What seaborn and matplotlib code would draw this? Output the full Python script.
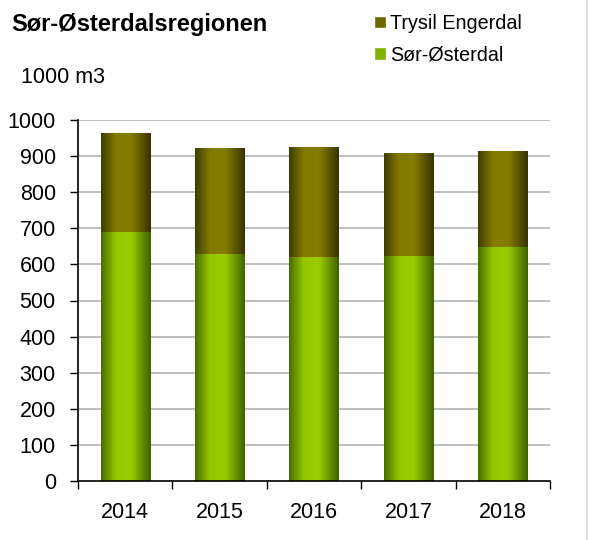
import numpy as np
import pandas as pd
import matplotlib
matplotlib.use("Agg")
import matplotlib.pyplot as plt
from matplotlib.colors import LinearSegmentedColormap
from matplotlib.patches import Patch
import seaborn as sns

# Data
years = ["2014", "2015", "2016", "2017", "2018"]
sor_osterdal = [690, 629, 620, 623, 648]
trysil_engerdal = [274, 293, 305, 286, 266]
series_names = ["Trysil Engerdal", "Sør-Østerdal"]
yticks = list(range(0, 1001, 100))

df = pd.DataFrame({"year": years, "sor": sor_osterdal, "trysil": trysil_engerdal})
df["total"] = df["sor"] + df["trysil"]

sns.set_theme(style="white")
plt.rcParams["font.family"] = ["Liberation Sans", "DejaVu Sans"]
plt.rcParams["text.color"] = "black"
plt.rcParams["xtick.color"] = "black"
plt.rcParams["ytick.color"] = "black"
plt.rcParams["xtick.labelcolor"] = "black"
plt.rcParams["ytick.labelcolor"] = "black"

fig = plt.figure(figsize=(5.89, 5.40), dpi=100)
ax = fig.add_axes([78 / 589, 1 - 481 / 540, (550 - 78) / 589, (481 - 120) / 540])

# gradient colormaps (dark edges, light middle)
cmap_top = LinearSegmentedColormap.from_list(
    "top", [(0, "#3d3d00"), (0.3, "#827a00"), (0.6, "#857d00"), (1, "#363300")])
cmap_bot = LinearSegmentedColormap.from_list(
    "bot", [(0, "#4a6c00"), (0.3, "#96c800"), (0.6, "#9acd00"), (1, "#426000")])

# bars: total first, then Sør-Østerdal on top
sns.barplot(data=df, x="year", y="total", color="#6b6600", width=0.52,
            saturation=1, ax=ax, zorder=2)
sns.barplot(data=df, x="year", y="sor", color="#80b000", width=0.52,
            saturation=1, ax=ax, zorder=3)

grad = np.linspace(0, 1, 256).reshape(1, -1)
n = len(years)
for i, p in enumerate(ax.patches):
    cmap = cmap_top if i < n else cmap_bot
    x0, y0 = p.get_x(), p.get_y()
    w, h = p.get_width(), p.get_height()
    img = ax.imshow(grad, cmap=cmap, aspect="auto", extent=[x0, x0 + w, y0, y0 + h],
                    zorder=2 if i < n else 3, interpolation="bicubic")
    img.set_clip_path(p)
    p.set_facecolor("none")
    p.set_edgecolor("none")

ax.set_xlim(-0.5, n - 0.5)
ax.set_ylim(0, 1000)
ax.set_yticks(yticks)
ax.set_yticklabels([str(v) for v in yticks])
ax.set_xlabel("")
ax.set_ylabel("")

# gridlines
for v in yticks[1:]:
    ax.axhline(v, color="#b4b4b4", lw=1.2, zorder=1)

for s in ["top", "right"]:
    ax.spines[s].set_visible(False)
for s in ["left", "bottom"]:
    ax.spines[s].set_color("black")
    ax.spines[s].set_linewidth(1.2)
    ax.spines[s].set_zorder(4)

ax.set_xticks(np.arange(-0.5, n, 1.0), minor=True)
ax.tick_params(axis="x", which="major", length=0, pad=15, labelsize=15.5)
ax.tick_params(axis="x", which="minor", length=6, width=1, direction="out")
ax.tick_params(axis="y", length=6, width=1, direction="out", pad=10,
               labelsize=15.5, left=True)
ax.tick_params(axis="x", bottom=True, which="both")

# texts
fig.text(11 / 589, 1 - 25 / 540, "Sør-Østerdalsregionen", fontsize=17,
         fontweight="bold", va="center", ha="left")
fig.text(21 / 589, 1 - 78 / 540, "1000 m3", fontsize=15.5, va="center", ha="left")

handles = [Patch(facecolor="#6b6600"), Patch(facecolor="#80b000")]
fig.legend(handles, series_names, loc="upper left", bbox_to_anchor=(374 / 589, 1 - 14 / 540),
           frameon=False, fontsize=14.2, handlelength=0.6, handleheight=0.6,
           handletextpad=0.2, labelspacing=0.62, borderpad=0, borderaxespad=0)

# right border line
fig.add_artist(plt.Line2D([587 / 589, 587 / 589], [0, 1], color="#dcdcdc", lw=1.5))

fig.savefig("out.png", dpi=100)
